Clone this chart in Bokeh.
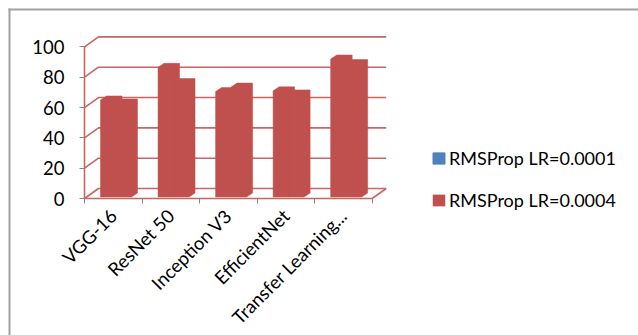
from math import pi
from bokeh.plotting import figure
from bokeh.models import (FixedTicker, Legend, LegendItem, Range1d,
                          ColumnDataSource, BoxAnnotation)
from bokeh.embed import file_html
from bokeh.resources import INLINE

# ---------------- data ----------------
categories = ["VGG-16", "ResNet 50", "Inception V3", "EfficientNet",
              "Transfer Learning..."]
series_names = ["RMSProp LR=0.0001", "RMSProp LR=0.0004"]
lr_0001 = [65, 86.5, 70.5, 71, 92]
lr_0004 = [63, 76.5, 73.5, 69, 89]
y_ticks = [0, 20, 40, 60, 80, 100]

# ---------------- style ----------------
BAR_RED = "#C0504D"
LEGEND_BLUE = "#4F81BD"
GRID_RED = "#CB6562"
TICK_GRAY = "#868686"
FRAME_GRAY = "#A0A0A0"
FONT = "Lato"
FS = "18.5px"

PX_X = 57.54   # pixels per category
PX_Y = 1.516   # pixels per value unit

W, H = 638, 335
X0_PX, Y0_PX = 84, 198       # where (0, 0) of the data sits in the canvas

WALL_DX = 14 / PX_X
WALL_DY = 10 / PX_Y
BAR_W = 15.5 / PX_X
BAR_OFF = 16 / PX_X
DEPTH_X = 6 / PX_X
DEPTH_Y = 4 / PX_Y
BASE = 1.0

p = figure(width=W, height=H, output_backend="svg", toolbar_location=None,
           x_range=Range1d(-X0_PX / PX_X, (W - X0_PX) / PX_X),
           y_range=Range1d(-(H - Y0_PX) / PX_Y, Y0_PX / PX_Y),
           min_border=0, min_border_left=0, min_border_right=0,
           min_border_top=0, min_border_bottom=0)
p.outline_line_color = None
p.grid.visible = False
p.background_fill_color = "white"
p.border_fill_color = "white"

n = len(categories)
# back wall grid lines (3-D look)
wall_xs = [[0, WALL_DX, n + WALL_DX] for _ in y_ticks]
wall_ys = [[t, t + WALL_DY, t + WALL_DY] for t in y_ticks]
p.multi_line(wall_xs, wall_ys, line_color=GRID_RED, line_width=1.6)
# right floor edge
p.line([n, n + WALL_DX], [0, WALL_DY], line_color=GRID_RED, line_width=1.6)


def bar_shapes(values, k):
    xs, ys = [], []
    for i, v in enumerate(values):
        x0 = i + BAR_OFF + k * BAR_W
        x1 = x0 + BAR_W
        xs.append([x0, x1, x1 + DEPTH_X, x1 + DEPTH_X, x0 + DEPTH_X, x0])
        ys.append([BASE, BASE, BASE + DEPTH_Y, v + DEPTH_Y, v + DEPTH_Y, v])
    return ColumnDataSource(dict(xs=xs, ys=ys, value=values))


r1 = p.patches("xs", "ys", source=bar_shapes(lr_0001, 0),
               fill_color=BAR_RED, line_color=BAR_RED, line_width=0.5)
r2 = p.patches("xs", "ys", source=bar_shapes(lr_0004, 1),
               fill_color=BAR_RED, line_color=BAR_RED, line_width=0.5)
# legend-only renderer for the first series' swatch colour
r_leg = p.vbar(x=[i + 0.5 for i in range(n)], top=lr_0001, width=0.3,
               fill_color=LEGEND_BLUE, line_color=LEGEND_BLUE, visible=False)

# ---------------- axes ----------------
yax = p.yaxis[0]
yax.fixed_location = 0
yax.ticker = FixedTicker(ticks=y_ticks)
yax.bounds = (0, 100)
yax.axis_line_color = GRID_RED
yax.axis_line_width = 1.6
yax.major_tick_line_color = TICK_GRAY
yax.major_tick_out = 5
yax.major_tick_in = 0
yax.minor_tick_line_color = None
yax.major_label_text_font = FONT
yax.major_label_text_font_size = FS
yax.major_label_text_color = "black"
yax.major_label_standoff = 15

xax = p.xaxis[0]
xax.fixed_location = 0
centers = [i + 0.5 for i in range(n)]
xax.ticker = FixedTicker(ticks=centers, minor_ticks=list(range(n + 1)))
xax.major_label_overrides = {c: lab for c, lab in zip(centers, categories)}
xax.bounds = (0, n)
xax.axis_line_color = GRID_RED
xax.axis_line_width = 1.6
xax.major_tick_line_color = None
xax.minor_tick_line_color = TICK_GRAY
xax.minor_tick_out = 5
xax.minor_tick_in = 0
xax.major_label_orientation = pi / 4
xax.major_label_text_font = FONT
xax.major_label_text_font_size = FS
xax.major_label_text_color = "black"
xax.major_label_standoff = 8

# ---------------- legend ----------------
legend = Legend(items=[LegendItem(label=series_names[0], renderers=[r_leg]),
                       LegendItem(label=series_names[1], renderers=[r2])],
                location=(431, 124), orientation="vertical",
                glyph_width=15, glyph_height=14, label_height=20,
                spacing=20, padding=0, margin=0, label_standoff=3,
                border_line_color=None, background_fill_alpha=0,
                inactive_fill_alpha=0,
                label_text_font=FONT, label_text_font_size="18px",
                label_text_color="black", click_policy="none")
p.add_layout(legend)

# ---------------- chart-area border (top & left edges) ----------------
bx = (9 - X0_PX) / PX_X
by = (Y0_PX - 9) / PX_Y
p.add_layout(BoxAnnotation(left=bx - 1 / PX_X, right=(W - X0_PX) / PX_X + 1,
                           top=by + 1 / PX_Y, bottom=by - 1 / PX_Y,
                           fill_color=FRAME_GRAY, fill_alpha=1,
                           line_color=None))
p.add_layout(BoxAnnotation(left=bx - 1 / PX_X, right=bx + 1 / PX_X,
                           top=by + 1 / PX_Y, bottom=-(H - Y0_PX) / PX_Y - 5,
                           fill_color=FRAME_GRAY, fill_alpha=1,
                           line_color=None))

open("out.html", "w").write(file_html(p, INLINE))
